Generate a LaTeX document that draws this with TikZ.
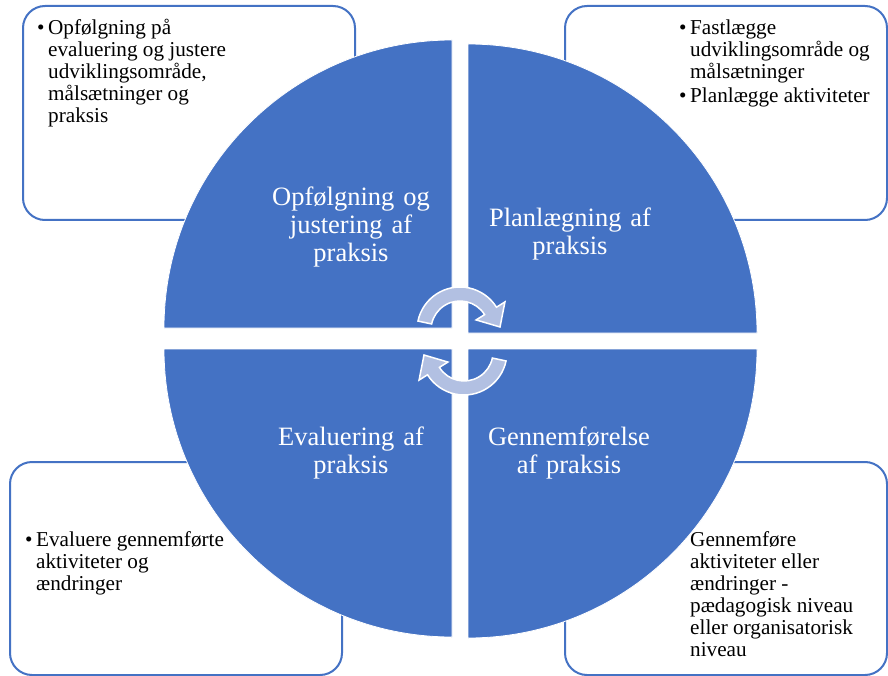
\documentclass[tikz,border=0pt]{standalone}
\usepackage{fontspec}
\setmainfont{Liberation Serif}
\usepackage{xcolor}
\usepackage{tikz}

\definecolor{quadblue}{HTML}{4472C4}
\definecolor{arrowfill}{RGB}{178,192,226}
\newcommand{\bul}{\makebox[11pt][l]{\textbullet}}

\begin{document}
\begin{tikzpicture}[x=1pt, y=-1pt,
  infobox/.style={rectangle, rounded corners=22pt, draw=quadblue, line width=2pt, fill=white},
  quad/.style={fill=quadblue, draw=white, line width=0.8pt},
  quadtext/.style={text=white, text width=190pt, align=center, inner sep=0pt, anchor=base, font=\fontsize{26.5}{28}\selectfont},
  boxtext/.style={text=black, inner sep=0pt, anchor=base west, font=\fontsize{21.2}{22}\selectfont},
  cyclearrow/.style={fill=arrowfill, draw=white, line width=1.5pt}]

\useasboundingbox (0,0) rectangle (888,676);

\node (opfbox) [infobox, minimum width=332pt, minimum height=214pt] at (189,113) {};
\node (planbox) [infobox, minimum width=322pt, minimum height=214pt] at (726,113) {};
\node (genbox) [infobox, minimum width=322pt, minimum height=213pt] at (726,568.5) {};
\node (evalbox) [infobox, minimum width=332pt, minimum height=213pt] at (176,568.5) {};

\draw[quad] (452,328) -- (164,328) arc[start angle=180, end angle=270, radius=288] -- cycle;
\draw[quad] (468,333) -- (468,44) arc[start angle=270, end angle=360, radius=289] -- cycle;
\draw[quad] (468,349) -- (757,349) arc[start angle=0, end angle=90, radius=289] -- cycle;
\draw[quad] (452,349) -- (452,637) arc[start angle=90, end angle=180, radius=288] -- cycle;

\draw[cyclearrow] ([shift={(460,330)}]-168:43) arc[start angle=-168, end angle=-32, radius=43]
  -- ([shift={(460,330)}]-32:53) -- (500,327) -- ([shift={(460,330)}]-32:19)
  -- ([shift={(460,330)}]-32:29) arc[start angle=-32, end angle=-168, radius=29] -- cycle;
\draw[cyclearrow] ([shift={(464,352)}]12:43) arc[start angle=12, end angle=148, radius=43]
  -- ([shift={(464,352)}]148:53) -- (424,355) -- ([shift={(464,352)}]148:19)
  -- ([shift={(464,352)}]148:29) arc[start angle=148, end angle=12, radius=29] -- cycle;

\node (opf) [quadtext] at (351,206) {Opfølgning og\\justering af\\praksis};
\node (plan) [quadtext] at (570,227) {Planlægning af\\praksis};
\node (eval) [quadtext] at (351,445) {Evaluering af\\praksis};
\node (gen) [quadtext] at (569,445) {Gennemførelse\\af praksis};

\node (opftxt) [boxtext] at (37,35) {\begin{tabular}[t]{@{}l@{}l@{}}
  \bul & Opfølgning på\\ & evaluering og justere\\ & udviklingsområde,\\ & målsætninger og\\ & praksis
  \end{tabular}};
\node (plantxt) [boxtext] at (679,35) {\begin{tabular}[t]{@{}l@{}l@{}}
  \bul & Fastlægge\\ & udviklingsområde og\\ & målsætninger\\[2pt] \bul & Planlægge aktiviteter
  \end{tabular}};
\node (gentxt) [boxtext] at (690,546) {\begin{tabular}[t]{@{}l@{}}
  Gennemføre\\ aktiviteter eller\\ ændringer -\\ pædagogisk niveau\\ eller organisatorisk\\ niveau
  \end{tabular}};
\node (evaltxt) [boxtext] at (25,546) {\begin{tabular}[t]{@{}l@{}l@{}}
  \bul & Evaluere gennemførte\\ & aktiviteter og\\ & ændringer
  \end{tabular}};

\end{tikzpicture}
\end{document}
